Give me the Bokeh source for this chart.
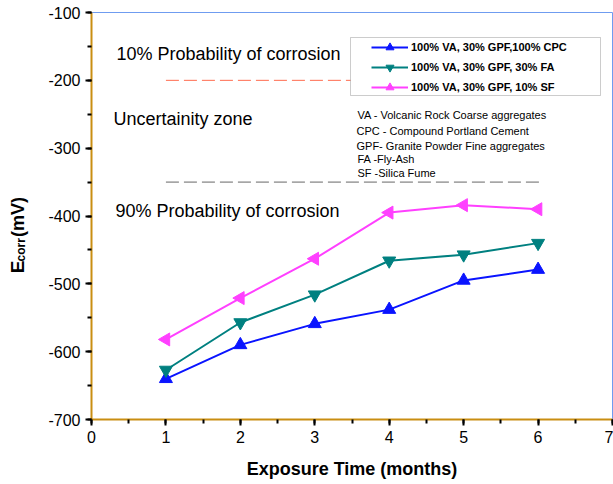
import math
from bokeh.plotting import figure
from bokeh.layouts import row
from bokeh.models import (Range1d, SingleIntervalTicker, Legend, LegendItem,
                          Label, BoxAnnotation, PrintfTickFormatter)
from bokeh.embed import file_html
from bokeh.resources import INLINE

# ---- data ----
months = [1, 2, 3, 4, 5, 6]
cpc = [-640, -590, -559, -538, -495, -479]
fa = [-627, -557, -516, -466, -457, -440]
sf = [-582, -521, -463, -395, -384, -390]
series_names = ["100% VA, 30% GPF,100% CPC",
                "100% VA, 30% GPF, 30% FA",
                "100% VA, 30% GPF, 10% SF"]

thr_10_x = [1, 4.2]
thr_10_y = [-200, -200]
thr_90_x = [1, 6.03]
thr_90_y = [-350, -350]

zone_texts = ["10% Probability of corrosion",
              "Uncertainity zone",
              "90% Probability of corrosion"]
abbrev_texts = ["VA - Volcanic Rock Coarse aggregates",
                "CPC - Compound Portland Cement",
                "GPF- Granite Powder Fine aggregates",
                "FA -Fly-Ash",
                "SF -Silica Fume"]
y_title_parts = ["E", "corr", "(mV)"]
x_title = "Exposure Time (months)"

FONT = "Liberation Sans"
AXIS_COLOR = "#c98e12"

# ---------- narrow left panel holding the rotated y title ----------
t = figure(width=40, height=484, output_backend="svg", toolbar_location=None,
           x_range=Range1d(0, 40), y_range=Range1d(0, 484),
           x_axis_location=None, y_axis_location=None,
           min_border=0)
t.outline_line_color = None
t.grid.visible = False
t.background_fill_color = "white"
t.border_fill_color = "white"
rot = math.pi / 2
t_pos = [(17, 174, "19px"), (20, 188, "12px"), (17, 217, "18px")]
for txt, (x, y, fs) in zip(y_title_parts, t_pos):
    t.add_layout(Label(x=x, y=y, text=txt, angle=rot, text_font=FONT,
                       text_font_size=fs, text_font_style="bold",
                       text_color="black", text_baseline="alphabetic"))

# ---------- main chart ----------
p = figure(width=573, height=484, output_backend="svg", toolbar_location=None,
           x_range=Range1d(0, 7), y_range=Range1d(-700, -100),
           min_border_left=51, min_border_right=1, min_border_top=12,
           min_border_bottom=65)
p.background_fill_color = "white"
p.border_fill_color = "white"
p.outline_line_color = "#6f9cf0"
p.outline_line_width = 1
p.grid.visible = False

p.xaxis.ticker = SingleIntervalTicker(interval=1, num_minor_ticks=2)
p.yaxis.ticker = SingleIntervalTicker(interval=100, num_minor_ticks=2)
p.xaxis.formatter = PrintfTickFormatter(format="%d")
p.yaxis.formatter = PrintfTickFormatter(format="%d")
for ax in (p.xaxis[0], p.yaxis[0]):
    ax.axis_line_color = AXIS_COLOR
    ax.axis_line_width = 2
    ax.major_tick_line_color = "black"
    ax.minor_tick_line_color = "black"
    ax.major_tick_line_width = 2
    ax.minor_tick_line_width = 2
    ax.major_tick_in = 0
    ax.minor_tick_in = 0
    ax.major_tick_out = 6
    ax.minor_tick_out = 4
    ax.major_label_text_font = FONT
    ax.major_label_text_font_size = "16px"
    ax.major_label_text_color = "black"
    ax.major_label_standoff = 5
p.xaxis.axis_label = x_title
p.xaxis.axis_label_text_font = FONT
p.xaxis.axis_label_text_font_style = "bold"
p.xaxis.axis_label_text_font_size = "18px"
p.xaxis.axis_label_text_color = "black"
p.xaxis.axis_label_standoff = 13

# threshold lines
p.line(thr_10_x, thr_10_y, line_color="#ff6a4d", line_width=1, line_dash="13 5")
p.line(thr_90_x, thr_90_y, line_color="#666666", line_width=1, line_dash="13 5")

# series
colors = ["#0a14ff", "#008080", "#ff40ff"]
vals = [cpc, fa, sf]
markers = ["triangle", "inverted_triangle", "triangle"]
angles = [0, 0, math.pi / 2]
items = []
for name, v, c, m, a in zip(series_names, vals, colors, markers, angles):
    ln = p.line(months, v, line_color=c, line_width=2)
    sc = p.scatter(months, v, marker=m, size=13, angle=a, fill_color=c,
                   line_color=c)
    items.append(LegendItem(label=name, renderers=[ln, sc]))

box = BoxAnnotation(left=259, right=509, top=382, bottom=324,
                    left_units="screen", right_units="screen",
                    top_units="screen", bottom_units="screen",
                    fill_color="white", fill_alpha=1.0,
                    line_color="#555555", line_width=1)
p.add_layout(box)

legend = Legend(items=items, location=(278, 320), padding=2, spacing=0,
                label_height=20, glyph_height=20, glyph_width=37,
                label_standoff=3, border_line_alpha=0,
                background_fill_alpha=0,
                label_text_font=FONT, label_text_font_size="11px",
                label_text_font_style="bold", label_text_color="black")
p.add_layout(legend, "center")

zone_pos = [(25, 366), (22, 301), (24, 209)]
for txt, (x, y) in zip(zone_texts, zone_pos):
    p.add_layout(Label(x=x, y=y, x_units="screen", y_units="screen", text=txt,
                       text_font=FONT, text_font_size="18px",
                       text_color="black", text_baseline="alphabetic"))

abbrev_pos = [(266, 305), (265, 289), (265, 274), (266, 261), (266, 247)]
for txt, (x, y) in zip(abbrev_texts, abbrev_pos):
    p.add_layout(Label(x=x, y=y, x_units="screen", y_units="screen", text=txt,
                       text_font=FONT, text_font_size="11px",
                       text_color="black", text_baseline="alphabetic"))

layout = row(t, p, spacing=0)
open("out.html", "w").write(file_html(layout, INLINE))
